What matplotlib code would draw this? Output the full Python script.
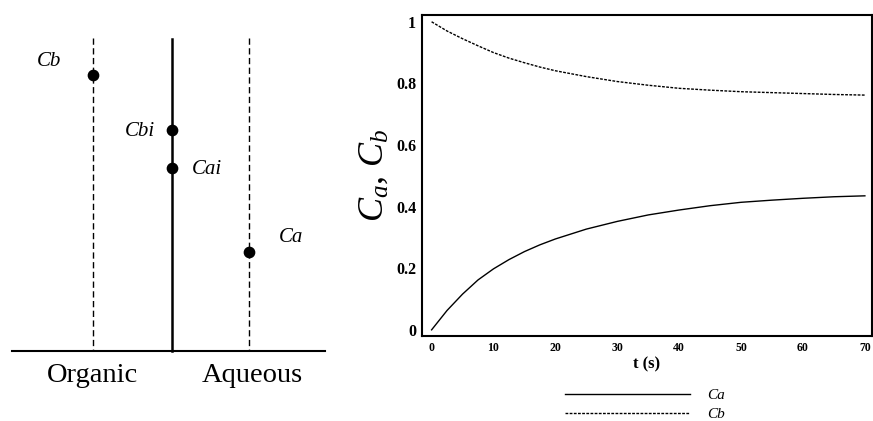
import numpy as np
import matplotlib.pyplot as plt

# left schematic: interface positions and dot heights (pixel-like units)
phase_x = [93, 172, 249]            # organic bulk, interface, aqueous bulk
dot_x = [93, 172, 172, 249]
dot_y = [75, 130, 168, 252]
dot_labels = ['Cb', 'Cbi', 'Cai', 'Ca']
label_pos = [(49, 61), (140, 131), (207, 169), (291, 238)]
phase_names = ['Organic', 'Aqueous']
phase_name_x = [93, 252]

# right plot: concentrations vs time
t = [0, 2.5, 5, 7.5, 10, 12.5, 15, 17.5, 20, 25, 30, 35, 40, 45, 50, 55, 60, 65, 70]
ca = [0.0, 0.063, 0.116, 0.162, 0.198, 0.228, 0.254, 0.276, 0.295, 0.327, 0.352,
      0.373, 0.389, 0.403, 0.414, 0.421, 0.427, 0.432, 0.435]
cb = [1.0, 0.970, 0.945, 0.922, 0.900, 0.882, 0.867, 0.853, 0.841, 0.822, 0.806,
      0.794, 0.784, 0.778, 0.773, 0.770, 0.767, 0.764, 0.762]
xticks = [0, 10, 20, 30, 40, 50, 60, 70]
yticks = [0, 0.2, 0.4, 0.6, 0.8, 1]
ytick_labels = ['0', '0.2', '0.4', '0.6', '0.8', '1']

plt.rcParams['font.family'] = ['Liberation Serif', 'DejaVu Serif']
plt.rcParams['mathtext.fontset'] = 'custom'
plt.rcParams['mathtext.it'] = 'Liberation Serif:italic'
plt.rcParams['mathtext.rm'] = 'Liberation Serif'

fig = plt.figure(figsize=(8.73, 4.21), dpi=100)

# ---- left diagram ----
ax1 = fig.add_axes([0, 0, 340 / 873, 1])
ax1.set_xlim(0, 340)
ax1.set_ylim(421, 0)
ax1.axis('off')
ax1.plot([12, 325], [351, 351], color='black', lw=1.5)
ax1.plot([phase_x[0]] * 2, [38, 351], color='black', lw=1, ls=(0, (4.5, 2.5)))
ax1.plot([phase_x[1]] * 2, [39, 351], color='black', lw=1.8)
ax1.plot([phase_x[2]] * 2, [38, 351], color='black', lw=1, ls=(0, (4.5, 2.5)))
ax1.scatter(dot_x, dot_y, s=55, color='black', zorder=3)
for lab, (lx, ly) in zip(dot_labels, label_pos):
    ax1.text(lx, ly, lab, fontsize=15, style='italic', ha='center', va='center')
for name, nx in zip(phase_names, phase_name_x):
    ax1.text(nx, 376, name, fontsize=20.5, ha='center', va='center')

# ---- right plot ----
ax2 = fig.add_axes([421.7 / 873, 85 / 421, 450 / 873, 321 / 421])
ax2.plot(t, ca, color='black', lw=1, label='Ca')
ax2.plot(t, cb, color='black', lw=1, ls=(0, (2, 1)), label='Cb')
ax2.set_xlim(-1.6, 71.1)
ax2.set_ylim(-0.02, 1.022)
ax2.set_xticks(xticks)
ax2.set_yticks(yticks)
ax2.set_yticklabels(ytick_labels)
ax2.tick_params(length=0)
ax2.tick_params(axis='y', labelsize=11.5, pad=4)
ax2.tick_params(axis='x', labelsize=8.5, pad=4)
for lbl in ax2.get_xticklabels() + ax2.get_yticklabels():
    lbl.set_fontweight('bold')
for s in ax2.spines.values():
    s.set_linewidth(1.5)
ax2.set_xlabel('t (s)', fontsize=12, fontweight='bold', labelpad=2)
ax2.set_ylabel('$C_a$, $C_b$', fontsize=26, labelpad=4)
leg = ax2.legend(loc='upper left', bbox_to_anchor=(565 / 873, 0.078),
                 bbox_transform=fig.transFigure, frameon=False, borderpad=0,
                 borderaxespad=0, handlelength=8.2, fontsize=11,
                 labelspacing=0.35, handletextpad=1.1)
for txt in leg.get_texts():
    txt.set_fontstyle('italic')

fig.savefig('out.png', dpi=100)
